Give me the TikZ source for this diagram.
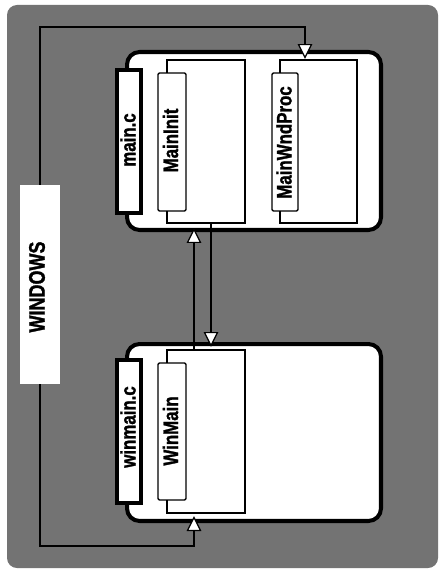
\documentclass[tikz,border=0pt]{standalone}
\usepackage{fontspec}
\newfontfamily\condb[FakeStretch=0.8,FakeBold=1.2]{Liberation Sans Bold}
\usetikzlibrary{arrows.meta}
\tikzset{
  outerbox/.style={draw, line width=2.3pt, rounded corners=0.25cm, fill=white, inner sep=0},
  filetab/.style={draw, line width=2.2pt, fill=white, inner sep=0},
  fbody/.style={draw, line width=0.8pt, fill=white, inner sep=0},
  functab/.style={draw, line width=0.8pt, fill=white, rounded corners=0.8pt, inner sep=0},
  lbl/.style={font=\condb\fontsize{12}{13}\selectfont, rotate=90, inner sep=0},
  biglbl/.style={font=\condb\fontsize{12.8}{13}\selectfont, rotate=90, inner sep=0},
  conn/.style={draw, line width=0.8pt},
  arr/.style={-{Triangle[fill=white, width=0.29cm, length=0.3cm, line width=0.7pt]}}
}
\begin{document}
\begin{tikzpicture}[x=0.02cm, y=-0.02cm]
\useasboundingbox (0,0) rectangle (440,574);
\fill[black!55, rounded corners=0.2cm] (7,5) rectangle (438,568);

% WINDOWS box
\node[fill=white, inner sep=0, minimum width=0.8cm, minimum height=3.98cm] (win) at (40,284.5) {};
\node[biglbl] (winlbl) at (37,287) {WINDOWS};

% main.c module
\node[outerbox, minimum width=5.08cm, minimum height=3.56cm] (mainbox) at (254,141) {};
\node[filetab, minimum width=0.48cm, minimum height=2.86cm] (maintab) at (129,141.5) {};
\node[lbl] (mainlbl) at (128,140) {main.c};
\node[fbody, minimum width=1.56cm, minimum height=3.26cm] (initbody) at (206,141.5) {};
\node[functab, minimum width=0.56cm, minimum height=2.76cm] (inittab) at (172,142) {};
\node[lbl] (initlbl) at (170.5,140.5) {MainInit};
\node[fbody, minimum width=1.54cm, minimum height=3.26cm] (procbody) at (318.5,141.5) {};
\node[functab, minimum width=0.52cm, minimum height=2.76cm] (proctab) at (285,142) {};
\node[lbl] (proclbl) at (284,142.5) {MainWndProc};

% winmain.c module
\node[outerbox, minimum width=5.08cm, minimum height=3.54cm] (winbox) at (254,432.5) {};
\node[filetab, minimum width=0.48cm, minimum height=2.86cm] (wintab) at (129,431.5) {};
\node[lbl] (winmlbl) at (128,427) {winmain.c};
\node[fbody, minimum width=1.56cm, minimum height=3.26cm] (wmbody) at (206,431.5) {};
\node[functab, minimum width=0.56cm, minimum height=2.74cm] (wmtab) at (172,431.5) {};
\node[lbl] (wmlbl) at (170.5,431) {WinMain};

% connector end points
\coordinate (cTop) at (305,27);
\coordinate (aTop) at (305,59);
\coordinate (cBot) at (194,546);
\coordinate (aBot) at (194,516);
\coordinate (aUp) at (194,228);
\coordinate (aDown) at (211,347);

% connectors
\draw[conn, arr] (win.north) |- (cTop) -- (aTop);
\draw[conn, arr] (win.south) |- (cBot) -- (aBot);
\draw[conn, arr] (wmbody.north -| aUp) -- (aUp);
\draw[conn, arr] (initbody.south -| aDown) -- (aDown);
\end{tikzpicture}
\end{document}
